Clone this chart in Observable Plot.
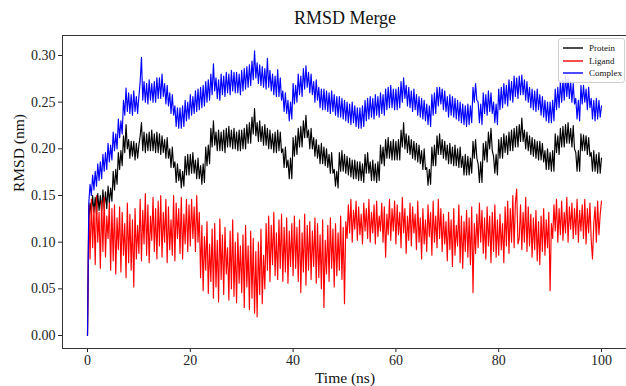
<!DOCTYPE html>
<html>
<head>
<meta charset="utf-8">
<script src="https://cdn.jsdelivr.net/npm/d3@7"></script>
<script src="https://cdn.jsdelivr.net/npm/@observablehq/plot@0.6"></script>
<style>
  html, body { margin: 0; padding: 0; background: #fff; }
  #wrap { position: relative; width: 626px; height: 386px; overflow: hidden;
          font-family: "Liberation Serif", "Times New Roman", serif; }
  .legend { position: absolute; left: 558px; top: 38px; width: 65px; padding: 3px 0 2px 0;
            border: 1px solid #d0d0d0; border-radius: 3px; background: rgba(255,255,255,0.85);
            font-size: 9px; color: #111; }
  .legend .row { display: flex; align-items: center; height: 12.5px; }
  .legend .sw { display: inline-block; width: 20px; height: 2px; opacity: 0.7; margin: 0 6px 0 4px; }
</style>
</head>
<body>
<div id="wrap"></div>
<script>
// ---- data ----
const seriesNames = ["Protein", "Ligand", "Complex"];
const seriesColors = ["#000000", "#ff0000", "#0000ff"];
const timeStep = 0.25; // ns between samples, t = 0 .. 100
const protein = [
  .000,.124,.142,.130,.150,.132,.148,.130,.152,.134,.150,.132,.156,.136,.154,.136,.160,.142,.158,.144,.176,.156,.178,.162,.196,.178,.198,.182,.214,.196,.226,.200,.210,.190,.208,.192,.208,.188,.206,.190,
  .204,.214,.228,.198,.218,.196,.216,.198,.218,.198,.220,.198,.216,.196,.218,.196,.216,.194,.214,.196,.210,.190,.212,.190,.200,.180,.202,.180,.186,.164,.184,.166,.178,.158,.176,.160,.192,.172,.194,.172,
  .194,.174,.196,.174,.188,.168,.190,.168,.182,.162,.184,.164,.202,.182,.204,.184,.222,.202,.230,.204,.218,.198,.220,.198,.218,.198,.220,.196,.222,.202,.224,.202,.220,.200,.222,.200,.218,.198,.220,.198,
  .220,.200,.222,.200,.226,.206,.228,.206,.234,.216,.243,.214,.228,.208,.230,.208,.224,.204,.226,.204,.222,.200,.220,.200,.216,.196,.218,.196,.220,.198,.218,.196,.200,.180,.202,.180,.188,.168,.190,.168,
  .212,.192,.214,.194,.222,.202,.224,.202,.230,.212,.236,.212,.220,.200,.222,.200,.212,.192,.210,.190,.204,.184,.206,.184,.202,.182,.200,.180,.194,.174,.196,.174,.178,.160,.176,.158,.196,.176,.198,.176,
  .194,.174,.192,.172,.190,.170,.188,.168,.188,.168,.186,.166,.186,.166,.184,.164,.194,.174,.196,.174,.186,.166,.188,.166,.184,.164,.186,.166,.204,.184,.202,.182,.210,.190,.212,.190,.208,.188,.210,.188,
  .208,.188,.210,.188,.220,.202,.228,.200,.216,.196,.214,.194,.210,.190,.208,.188,.206,.186,.204,.184,.198,.178,.200,.178,.180,.161,.178,.162,.202,.182,.204,.182,.214,.194,.216,.194,.210,.190,.208,.188,
  .204,.184,.206,.184,.202,.182,.204,.182,.200,.180,.202,.180,.192,.172,.194,.172,.192,.172,.190,.174,.208,.190,.210,.190,.184,.164,.186,.164,.206,.188,.208,.186,.218,.200,.222,.198,.192,.174,.194,.172,
  .210,.190,.212,.190,.216,.196,.214,.194,.218,.198,.220,.198,.222,.202,.224,.202,.226,.208,.233,.208,.220,.200,.218,.198,.214,.194,.212,.192,.210,.190,.208,.188,.208,.188,.206,.186,.198,.178,.200,.178,
  .196,.176,.198,.176,.216,.196,.214,.194,.222,.202,.224,.202,.226,.206,.228,.206,.222,.202,.225,.200,.196,.176,.198,.176,.216,.198,.215,.198,.214,.194,.212,.192,.196,.176,.198,.176,.194,.174,.196,.174,
  .190
];
const ligand = [
  .000,.140,.082,.146,.094,.138,.076,.150,.100,.132,.072,.144,.090,.148,.084,.128,.104,.142,.070,.136,.080,.140,.066,.126,.092,.138,.068,.132,.086,.120,.062,.142,.078,.130,.070,.124,.052,.136,.082,.118,
  .088,.146,.080,.134,.098,.152,.086,.140,.078,.128,.102,.148,.090,.136,.082,.144,.096,.150,.084,.132,.100,.146,.078,.138,.092,.124,.086,.150,.080,.142,.104,.136,.088,.148,.082,.130,.098,.146,.090,.140,
  .096,.146,.104,.138,.090,.150,.100,.132,.062,.118,.048,.106,.070,.122,.045,.098,.058,.114,.040,.120,.052,.102,.036,.125,.060,.108,.044,.116,.066,.094,.038,.112,.050,.124,.042,.100,.035,.110,.056,.096,
  .046,.108,.030,.118,.052,.096,.028,.112,.040,.104,.024,.090,.020,.100,.044,.114,.034,.086,.050,.120,.070,.128,.058,.118,.076,.132,.064,.110,.060,.124,.072,.130,.058,.116,.068,.126,.056,.112,.074,.120,
  .064,.128,.072,.116,.058,.124,.046,.110,.068,.130,.054,.118,.070,.122,.060,.112,.074,.126,.056,.120,.062,.108,.050,.124,.030,.102,.066,.118,.058,.126,.072,.114,.052,.120,.064,.110,.070,.128,.060,.116,
  .034,.122,.104,.140,.110,.146,.100,.134,.114,.144,.102,.138,.108,.130,.098,.142,.112,.136,.104,.146,.100,.132,.110,.140,.098,.144,.106,.128,.112,.142,.100,.138,.084,.130,.108,.146,.102,.136,.112,.144,
  .098,.140,.108,.132,.094,.148,.110,.136,.088,.128,.102,.142,.096,.138,.110,.130,.092,.144,.100,.126,.082,.136,.098,.124,.090,.140,.106,.132,.086,.144,.100,.128,.094,.146,.104,.136,.090,.130,.098,.122,
  .080,.132,.092,.124,.074,.136,.086,.118,.096,.140,.078,.128,.072,.122,.090,.134,.084,.126,.076,.138,.046,.120,.088,.130,.094,.142,.100,.134,.088,.126,.082,.138,.096,.128,.078,.132,.090,.140,.084,.124,
  .086,.130,.092,.120,.078,.138,.096,.144,.088,.136,.100,.150,.094,.142,.157,.098,.104,.140,.092,.132,.100,.148,.090,.138,.096,.130,.084,.126,.092,.134,.080,.122,.076,.128,.090,.136,.086,.124,.094,.132,
  .048,.120,.104,.140,.112,.146,.100,.136,.108,.144,.102,.132,.110,.148,.100,.138,.114,.142,.104,.136,.108,.146,.100,.134,.112,.140,.104,.146,.098,.136,.110,.142,.102,.082,.120,.138,.100,.144,.108,.130,
  .144
];
const complex = [
  .000,.142,.162,.150,.172,.156,.176,.160,.184,.166,.186,.168,.194,.176,.196,.178,.206,.186,.204,.188,.218,.198,.216,.200,.232,.212,.230,.216,.252,.236,.265,.240,.260,.238,.258,.236,.262,.240,.256,.238,
  .256,.272,.298,.252,.272,.250,.270,.248,.274,.252,.270,.250,.272,.250,.276,.254,.276,.254,.280,.256,.270,.248,.268,.246,.260,.238,.258,.236,.246,.224,.244,.222,.244,.222,.246,.224,.252,.230,.250,.232,
  .258,.236,.256,.238,.262,.240,.264,.242,.266,.244,.268,.246,.272,.250,.274,.252,.280,.258,.291,.262,.276,.254,.274,.252,.280,.258,.278,.256,.282,.260,.280,.258,.284,.262,.282,.260,.282,.260,.280,.258,
  .284,.262,.286,.264,.288,.266,.290,.268,.294,.274,.305,.276,.292,.270,.290,.268,.288,.266,.286,.264,.297,.266,.284,.262,.280,.258,.278,.256,.285,.256,.276,.252,.262,.240,.260,.238,.252,.230,.250,.232,
  .270,.248,.268,.250,.280,.258,.278,.256,.286,.264,.289,.266,.282,.260,.280,.258,.272,.250,.274,.252,.266,.244,.264,.242,.264,.242,.262,.240,.260,.238,.262,.240,.258,.236,.256,.234,.256,.234,.254,.232,
  .252,.230,.250,.228,.248,.226,.250,.228,.246,.224,.244,.222,.244,.222,.246,.224,.252,.230,.254,.232,.256,.234,.254,.232,.258,.236,.256,.234,.260,.238,.258,.236,.264,.242,.266,.244,.268,.244,.264,.242,
  .264,.242,.266,.244,.272,.250,.276,.254,.268,.246,.266,.244,.262,.240,.264,.242,.258,.236,.256,.234,.254,.232,.252,.230,.248,.226,.246,.224,.258,.236,.260,.238,.266,.246,.266,.248,.264,.242,.262,.240,
  .256,.234,.258,.236,.256,.234,.254,.232,.252,.230,.250,.228,.248,.226,.246,.224,.248,.226,.246,.228,.266,.250,.270,.252,.250,.228,.248,.226,.260,.238,.258,.236,.262,.240,.260,.238,.250,.228,.248,.226,
  .264,.242,.266,.244,.270,.248,.268,.246,.274,.252,.272,.250,.278,.256,.276,.254,.278,.258,.279,.258,.274,.252,.272,.250,.266,.244,.264,.242,.262,.240,.264,.242,.258,.236,.256,.234,.252,.230,.250,.228,
  .250,.228,.252,.230,.264,.242,.266,.244,.272,.250,.274,.252,.278,.256,.276,.254,.272,.250,.270,.248,.254,.232,.252,.230,.268,.248,.268,.250,.264,.242,.266,.244,.254,.232,.252,.230,.254,.232,.252,.234,
  .246
];
const xTicks = [0, 20, 40, 60, 80, 100];
const yTicks = [0.00, 0.05, 0.10, 0.15, 0.20, 0.25, 0.30];
const titleText = "RMSD Merge";
const xLabel = "Time (ns)";
const yLabel = "RMSD (nm)";

// ---- build table ----
const rows = [];
[protein, ligand, complex].forEach((arr, k) =>
  arr.forEach((v, i) => rows.push({series: seriesNames[k], t: i * timeStep, v}))
);

const serif = "'Liberation Serif', 'Times New Roman', serif";
const chart = Plot.plot({
  width: 626,
  height: 386,
  marginLeft: 62,
  marginRight: -1,
  marginTop: 35,
  marginBottom: 38,
  style: {fontFamily: serif, fontSize: "14px", color: "#222", background: "white"},
  x: {domain: [-4.864, 105.06], ticks: xTicks, tickFormat: d => String(d), tickSize: 4, tickPadding: 3, label: null},
  y: {domain: [-0.0139, 0.3214], ticks: yTicks, tickFormat: d3.format(".2f"), tickSize: 4, tickPadding: 3, label: null},
  color: {domain: seriesNames, range: seriesColors},
  marks: [
    Plot.lineY(rows, {x: "t", y: "v", z: "series", stroke: "series", strokeWidth: 1.15}),
    Plot.frame({stroke: "#333", strokeWidth: 1}),
    Plot.text([titleText], {frameAnchor: "top", lineAnchor: "middle", dy: -17, fontSize: 18, fill: "#111"}),
    Plot.text([xLabel], {frameAnchor: "bottom", lineAnchor: "middle", dy: 30, fontSize: 15.5, fill: "#111"}),
    Plot.text([yLabel], {frameAnchor: "left", dx: -43, rotate: -90, fontSize: 15.5, fill: "#111"})
  ]
});

const wrap = document.getElementById("wrap");
wrap.appendChild(chart);

// legend
const legend = document.createElement("div");
legend.className = "legend";
seriesNames.forEach((name, i) => {
  const row = document.createElement("div");
  row.className = "row";
  const sw = document.createElement("span");
  sw.className = "sw";
  sw.style.backgroundColor = seriesColors[i];
  const label = document.createElement("span");
  label.textContent = name;
  row.appendChild(sw);
  row.appendChild(label);
  legend.appendChild(row);
});
wrap.appendChild(legend);
</script>
</body>
</html>
